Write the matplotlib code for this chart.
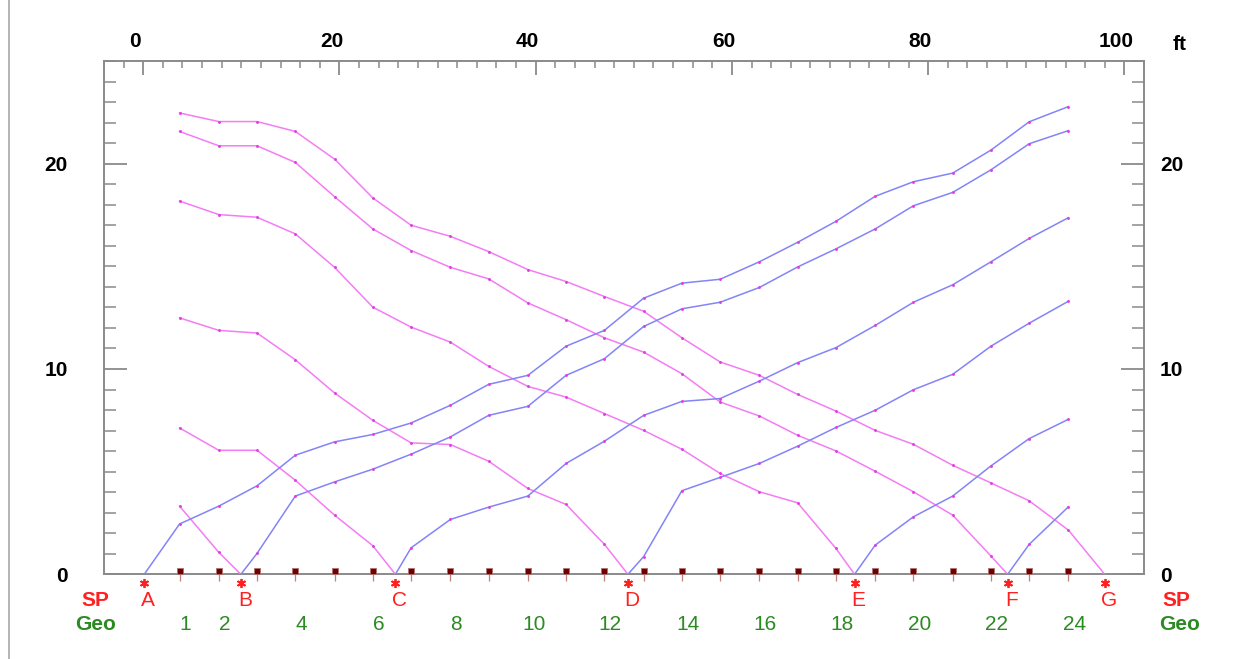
import matplotlib
matplotlib.use('Agg')
import matplotlib.pyplot as plt
import matplotlib.transforms as mtransforms
from matplotlib.lines import Line2D
from matplotlib.ticker import MultipleLocator

plt.rcParams['font.family'] = ['Liberation Sans', 'DejaVu Sans']

# geophone positions (ft) and shot points
geo_x = [3.7, 7.7, 11.6, 15.5, 19.5, 23.4, 27.3, 31.3, 35.2, 39.2, 43.1, 47.0,
         51.0, 54.9, 58.8, 62.8, 66.7, 70.6, 74.6, 78.5, 82.5, 86.4, 90.3, 94.3]
geo_labels = ['1', '2', '4', '6', '8', '10', '12', '14', '16', '18', '20', '22', '24']
geo_label_idx = [1, 2, 4, 6, 8, 10, 12, 14, 16, 18, 20, 22, 24]
shot_x = [0.1, 9.95, 25.7, 49.4, 72.5, 88.1, 98.0]
shot_names = ['A', 'B', 'C', 'D', 'E', 'F', 'G']

# reverse branches (arrive at shot from the left), first geophones 1..n
rev_B = [3.32, 1.07]
rev_C = [7.13, 6.04, 6.04, 4.58, 2.88, 1.39]
rev_D = [12.49, 11.88, 11.75, 10.45, 8.83, 7.50, 6.40, 6.32, 5.51, 4.18, 3.40, 1.46]
rev_E = [18.18, 17.52, 17.39, 16.58, 14.95, 13.01, 12.04, 11.31, 10.13, 9.15, 8.63, 7.83,
         7.01, 6.09, 4.91, 4.02, 3.48, 1.26]
rev_F = [21.57, 20.87, 20.87, 20.06, 18.39, 16.82, 15.77, 14.95, 14.39, 13.22, 12.40, 11.52,
         10.82, 9.77, 8.39, 7.71, 6.77, 6.01, 5.02, 4.02, 2.88, 0.89]
rev_G = [22.47, 22.05, 22.05, 21.57, 20.22, 18.33, 17.00, 16.46, 15.72, 14.84, 14.26, 13.53,
         12.81, 11.52, 10.34, 9.69, 8.76, 7.95, 7.01, 6.33, 5.31, 4.45, 3.58, 2.15]

# forward branches (leave shot to the right), last geophones up to 24
fwd_A = [2.45, 3.32, 4.31, 5.80, 6.45, 6.81, 7.37, 8.23, 9.25, 9.69, 11.11, 11.88,
         13.45, 14.18, 14.37, 15.22, 16.17, 17.19, 18.41, 19.12, 19.54, 20.66, 22.04, 22.78]
fwd_B = [1.02, 3.81, 4.50, 5.12, 5.85, 6.69, 7.74, 8.18, 9.69, 10.50, 12.07, 12.93,
         13.25, 13.97, 14.97, 15.85, 16.82, 17.95, 18.60, 19.70, 20.97, 21.61]
fwd_C = [1.29, 2.67, 3.27, 3.81, 5.40, 6.48, 7.74, 8.42, 8.56, 9.41, 10.31, 11.04,
         12.12, 13.25, 14.10, 15.22, 16.36, 17.37]
fwd_D = [0.86, 4.07, 4.72, 5.40, 6.24, 7.15, 7.99, 8.99, 9.74, 11.11, 12.23, 13.30]
fwd_E = [1.42, 2.80, 3.81, 5.28, 6.61, 7.55]
fwd_F = [1.46, 3.29]

reverse = [(1, rev_B), (2, rev_C), (3, rev_D), (4, rev_E), (5, rev_F), (6, rev_G)]
forward = [(0, fwd_A), (1, fwd_B), (2, fwd_C), (3, fwd_D), (4, fwd_E), (5, fwd_F)]

PINK = '#f47cf4'
BLUE = '#8484f8'
DOT = '#e040e0'
GRAY = '#8a8a8a'
RED = '#ff2020'
GREEN = '#2c8a22'
FS = 15

fig = plt.figure(figsize=(12.51, 6.59), dpi=100)
ax = fig.add_axes([104 / 1251, 1 - 574.3 / 659, 1040 / 1251, 513.3 / 659])

for si, t in reverse:
    xs = geo_x[:len(t)] + [shot_x[si]]
    ys = t + [0]
    ax.plot(xs, ys, color=PINK, lw=1.1, zorder=3)
    ax.plot(geo_x[:len(t)], t, ls='none', marker='o', ms=1.1, color=DOT, zorder=4)
for si, t in forward:
    xs = [shot_x[si]] + geo_x[len(geo_x) - len(t):]
    ys = [0] + t
    ax.plot(xs, ys, color=BLUE, lw=1.1, zorder=3)
    ax.plot(geo_x[len(geo_x) - len(t):], t, ls='none', marker='o', ms=1.1, color=DOT, zorder=4)

ax.set_xlim(-4, 102)
ax.set_ylim(0, 25)

# geophones
ax.vlines(geo_x, -0.33, 0, color='#c08080', lw=0.9, clip_on=False, zorder=5)
ax.plot(geo_x, [0.14] * len(geo_x), ls='none', marker='s', ms=5, color='#6e0000',
        mec='#b07070', mew=0.6, clip_on=False, zorder=6)

# shot points
ax.plot(shot_x, [-0.42] * len(shot_x), ls='none', marker=(6, 2, 0), ms=6.5, mew=1.3,
        color=RED, clip_on=False, zorder=6)
for x, n in zip(shot_x, shot_names):
    ax.text(x + 0.4, -1.28, n, color=RED, fontsize=FS, ha='center', va='center')
for i, lab in zip(geo_label_idx, geo_labels):
    ax.text(geo_x[i - 1] + 0.6, -2.46, lab, color=GREEN, fontsize=FS, ha='center', va='center')
ax.text(-4.85, -1.28, 'SP', color=RED, fontsize=FS, fontweight='bold', ha='center', va='center')
ax.text(-4.85, -2.46, 'Geo', color=GREEN, fontsize=FS, fontweight='bold', ha='center', va='center')
ax.text(105.3, -1.28, 'SP', color=RED, fontsize=FS, fontweight='bold', ha='center', va='center')
ax.text(105.6, -2.46, 'Geo', color=GREEN, fontsize=FS, fontweight='bold', ha='center', va='center')

# axes styling
for sp in ax.spines.values():
    sp.set_color(GRAY)
    sp.set_linewidth(1.4)

ax.xaxis.tick_top()
ax.xaxis.set_major_locator(MultipleLocator(20))
ax.xaxis.set_minor_locator(MultipleLocator(2))
ax.tick_params(axis='x', which='major', direction='in', length=10, width=1.3, color=GRAY,
               labelsize=FS, pad=7, top=True, bottom=False)
ax.tick_params(axis='x', which='minor', direction='in', length=4.8, width=1.1, color=GRAY,
               top=True, bottom=False)
for lab in ax.get_xticklabels():
    lab.set_fontweight('bold')
    lab.set_transform(lab.get_transform() + mtransforms.ScaledTranslation(-0.08, 0, fig.dpi_scale_trans))

ax2 = ax.twinx()
ax2.set_ylim(0, 25)
for a, side, pad in [(ax, 'left', 26), (ax2, 'right', 11.5)]:
    a.yaxis.set_major_locator(MultipleLocator(10))
    a.yaxis.set_minor_locator(MultipleLocator(1))
    a.tick_params(axis='y', which='major', direction='in', length=16.5, width=1.3, color=GRAY,
                  labelsize=FS, pad=pad)
    a.tick_params(axis='y', which='minor', direction='in', length=8.6, width=1.1, color=GRAY)
    for lab in a.get_yticklabels():
        lab.set_fontweight('bold')
for sp in ax2.spines.values():
    sp.set_visible(False)

fig.text(1180 / 1251, 1 - 44 / 659, 'ft', fontsize=FS, fontweight='bold', ha='center', va='center')

# outer frame line on the left
fig.add_artist(Line2D([9 / 1251, 9 / 1251], [0, 1], color='#a8a8a8', lw=1.2))

fig.savefig('out.png', dpi=100)
